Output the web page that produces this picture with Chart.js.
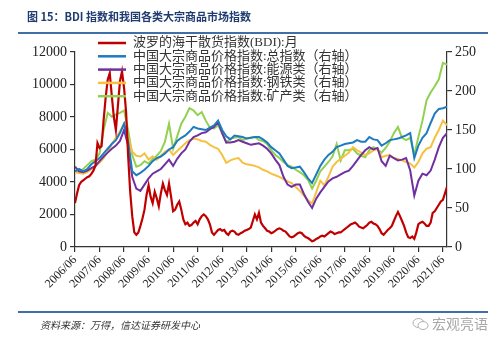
<!DOCTYPE html>
<html>
<head>
<meta charset="utf-8">
<script src="https://cdn.jsdelivr.net/npm/chart.js@4.4.1/dist/chart.umd.min.js"></script>
<style>
  body { margin: 0; background: #fff; }
  #wrap { position: relative; width: 500px; height: 343px; overflow: hidden; }
  #chart { position: absolute; left: 0; top: 0; }
  .title { position: absolute; left: 27px; top: 8px; font: bold 11px "Noto Sans CJK SC", sans-serif; color: #1f3b70; white-space: nowrap; }
  .rule { position: absolute; left: 18px; width: 470px; height: 2px; background: #3f6fa6; }
  .src { position: absolute; left: 40px; top: 317px; font: italic 10px "Noto Sans CJK SC", sans-serif; color: #333; white-space: nowrap; }
  .wm { position: absolute; left: 412px; top: 313px; font: 14px "Noto Sans CJK SC", sans-serif; color: #a8a8a8; white-space: nowrap; }
  .wm svg { vertical-align: -2px; margin-right: 3px; }
</style>
</head>
<body>
<div id="wrap">
  <canvas id="chart" width="500" height="343"></canvas>
  <div class="title">图 15：BDI 指数和我国各类大宗商品市场指数</div>
  <div class="rule" style="top:32px"></div>
  <div class="rule" style="top:311px"></div>
  <div class="src">资料来源：万得，信达证券研发中心</div>
  <div class="wm"><svg width="17" height="14" viewBox="0 0 17 14"><ellipse cx="6.5" cy="6" rx="5.5" ry="4.5" fill="none" stroke="#b0b0b0" stroke-width="1"/><ellipse cx="11" cy="8.5" rx="5" ry="4" fill="#fff" stroke="#b0b0b0" stroke-width="1"/></svg>宏观亮语</div>
</div>
<script>
// x轴刻度（每年6月）
var tickLabels = ['2006/06', '2007/06', '2008/06', '2009/06', '2010/06', '2011/06', '2012/06', '2013/06',
  '2014/06', '2015/06', '2016/06', '2017/06', '2018/06', '2019/06', '2020/06', '2021/06'];

var seriesNames = [
  '波罗的海干散货指数(BDI):月',
  '中国大宗商品价格指数:总指数（右轴）',
  '中国大宗商品价格指数:能源类（右轴）',
  '中国大宗商品价格指数:钢铁类（右轴）',
  '中国大宗商品价格指数:矿产类（右轴）'
];

// BDI 月度，2006/06 起
var bdi = [
  2700, 3300, 3800, 4000, 4100, 4200, 4300, 4350, 4500, 4700, 5000, 6400,
  6100, 6200, 7800, 9200, 10300, 10700, 9300, 8000, 7200, 8700, 10200, 10800,
  9800, 8300, 5600, 3400, 1900, 900, 750, 900, 1300, 1750, 2300, 3200,
  3800, 3100, 2700, 3400, 3000, 2500, 3300, 3900, 3500, 3200, 3900, 3100,
  2200, 2300, 2600, 2800, 2300, 1700, 1400, 1500, 1300, 1350, 1500, 1600,
  1400, 1700, 1900, 2000, 1900, 1700, 1400, 900, 750, 900, 1050, 1100,
  1000, 1050, 850, 750, 950, 1000, 950, 800, 750, 850, 900, 1000,
  1050, 1100, 1200, 1600, 2000, 1700, 2100, 1500, 1300, 1150, 1000, 950,
  850, 900, 1000, 1100, 1150, 1100, 1000, 950, 800, 650, 600, 650,
  750, 850, 900, 850, 700, 600, 550, 450, 350, 400, 500, 550,
  650, 700, 650, 750, 850, 950, 900, 800, 850, 900, 900, 1000,
  1100, 1200, 1300, 1400, 1450, 1500, 1400, 1250, 1200, 1150, 1250, 1350,
  1500, 1550, 1450, 1400, 1300, 1100, 850, 750, 900, 1050, 1150, 1300,
  1600, 1900, 2150, 1900, 1600, 1300, 900, 600, 550, 650, 500, 900,
  1400, 1500, 1550, 1450, 1300, 1300, 1500, 2100, 2200, 2400, 2600, 2800,
  2900, 3300, 3700
];

// 以下各指数为双月取值，2006/06 起
var totalIdx = [
  97, 100, 97, 100, 106, 110,
  114, 120, 126, 132, 137, 146,
  158, 135, 97, 92, 95, 99,
  104, 110, 114, 116, 120, 125,
  128, 136, 140, 143, 148, 154,
  152, 151, 150, 153, 156, 162,
  150, 142, 138, 143, 142, 141,
  139, 140, 141, 141, 138, 134,
  128, 124, 120, 112, 104, 101,
  102, 103, 96, 88, 82, 93,
  104, 112, 118, 122, 128, 130,
  132, 133, 134, 137, 135, 135,
  141, 138, 137, 130, 133, 137,
  138, 139, 141, 143, 146, 114,
  130, 140, 146, 159, 171, 177,
  178, 180
];

var energyIdx = [
  103, 97, 96, 98, 101, 104,
  110, 116, 121, 126, 130, 136,
  150, 130, 90, 75, 72, 80,
  88, 94, 97, 100, 106, 112,
  104, 113, 120, 125, 135, 141,
  143, 146, 147, 151, 154, 160,
  146, 134, 134, 135, 137, 135,
  133, 131, 132, 133, 130, 126,
  120, 112, 105, 90, 80, 77,
  80, 80, 68, 58, 50, 62,
  70, 77, 84, 88, 90, 93,
  96, 98, 104, 111, 118, 124,
  128, 125, 127, 110, 104, 117,
  114, 111, 112, 114, 98, 66,
  85, 94, 92, 98, 112, 128,
  140, 146
];

var steelIdx = [
  96, 95, 94, 96, 100, 104,
  108, 114, 122, 132, 140, 148,
  158, 140, 122, 117, 116, 120,
  112, 116, 112, 117, 122, 125,
  118, 123, 128, 133, 137, 139,
  138, 136, 135, 131, 128, 126,
  118, 108, 111, 113, 114, 108,
  106, 105, 104, 102, 99, 97,
  94, 92, 90, 87, 84, 82,
  77, 72, 66, 60, 56, 70,
  85, 79, 90, 103, 109, 113,
  117, 121, 128, 124, 121, 118,
  120, 124, 126, 115, 117, 118,
  114, 113, 111, 109, 107, 102,
  109, 120, 126, 128, 140, 150,
  162, 156
];

var mineralIdx = [
  98, 96, 100, 105, 110, 112,
  120, 150, 172, 167, 170, 172,
  175, 150, 118, 103, 105, 110,
  107, 113, 117, 123, 135, 158,
  126, 142, 158, 167, 178, 175,
  169, 173, 162, 153, 152, 156,
  146, 134, 139, 140, 141, 137,
  139, 140, 141, 137, 136, 132,
  124, 118, 114, 109, 105, 103,
  99, 96, 92, 86, 75, 85,
  97, 103, 109, 116, 132, 111,
  124, 124, 126, 120, 117, 115,
  124, 128, 125, 121, 127, 135,
  146, 154, 140, 137, 140, 118,
  141, 162, 188, 198, 206, 215,
  236, 234
];

var colors = ['#c00000', '#1f7bbf', '#7030a0', '#f5c140', '#92d050'];

function monthly(arr) { return arr.map(function(v, i) { return { x: i, y: v }; }); }
function biMonthly(arr) { return arr.map(function(v, i) { return { x: i * 2, y: v }; }); }

var serifFont = '"Liberation Serif", "Noto Sans CJK SC", serif';

var legendPlugin = {
  id: 'boxLegend',
  afterDraw: function(chart) {
    var ctx = chart.ctx;
    ctx.save();
    ctx.font = '13px ' + serifFont;
    ctx.textBaseline = 'middle';
    chart.data.datasets.forEach(function(ds, i) {
      var y = 43 + i * 13.3;
      ctx.strokeStyle = ds.borderColor;
      ctx.lineWidth = 2.5;
      ctx.beginPath();
      ctx.moveTo(98, y);
      ctx.lineTo(126, y);
      ctx.stroke();
      ctx.fillStyle = '#333';
      ctx.fillText(ds.label, 133, y);
    });
    ctx.restore();
  }
};

var axisGrid = { drawOnChartArea: false, color: '#333', tickLength: 5, lineWidth: 1.2 };
var axisBorder = { color: '#333', width: 1.2 };
var plainNum = function(v) { return String(v); };

var ctx = document.getElementById('chart').getContext('2d');
var myChart = new Chart(ctx, {
  type: 'line',
  data: {
    datasets: [
      { label: seriesNames[0], data: monthly(bdi), yAxisID: 'y', borderColor: colors[0], borderWidth: 2.2 },
      { label: seriesNames[1], data: biMonthly(totalIdx), yAxisID: 'y1', borderColor: colors[1], borderWidth: 2 },
      { label: seriesNames[2], data: biMonthly(energyIdx), yAxisID: 'y1', borderColor: colors[2], borderWidth: 2 },
      { label: seriesNames[3], data: biMonthly(steelIdx), yAxisID: 'y1', borderColor: colors[3], borderWidth: 2 },
      { label: seriesNames[4], data: biMonthly(mineralIdx), yAxisID: 'y1', borderColor: colors[4], borderWidth: 2 }
    ]
  },
  options: {
    responsive: false,
    animation: false,
    devicePixelRatio: 1,
    elements: { point: { radius: 0 }, line: { tension: 0 } },
    layout: { padding: { top: 52, left: 0, right: 0, bottom: 0 } },
    plugins: { legend: { display: false }, tooltip: { enabled: false } },
    scales: {
      x: {
        type: 'linear',
        min: 0,
        max: 182,
        grid: axisGrid,
        border: axisBorder,
        afterFit: function(s) { s.height = 96; },
        ticks: {
          stepSize: 12,
          includeBounds: false,
          autoSkip: false,
          maxRotation: 45,
          minRotation: 45,
          padding: 1,
          color: '#222',
          font: { family: serifFont, size: 12 },
          callback: function(v) { return v % 12 === 0 ? tickLabels[v / 12] : null; }
        }
      },
      y: {
        position: 'left',
        min: 0,
        max: 12000,
        grid: axisGrid,
        border: axisBorder,
        afterFit: function(s) { s.width = 75; },
        ticks: { stepSize: 2000, padding: 3, color: '#222', font: { family: serifFont, size: 14 }, callback: plainNum }
      },
      y1: {
        position: 'right',
        min: 0,
        max: 250,
        grid: axisGrid,
        border: axisBorder,
        afterFit: function(s) { s.width = 53; },
        ticks: { stepSize: 50, padding: 3, color: '#222', font: { family: serifFont, size: 14 }, callback: plainNum }
      }
    }
  },
  plugins: [legendPlugin]
});
</script>
</body>
</html>
